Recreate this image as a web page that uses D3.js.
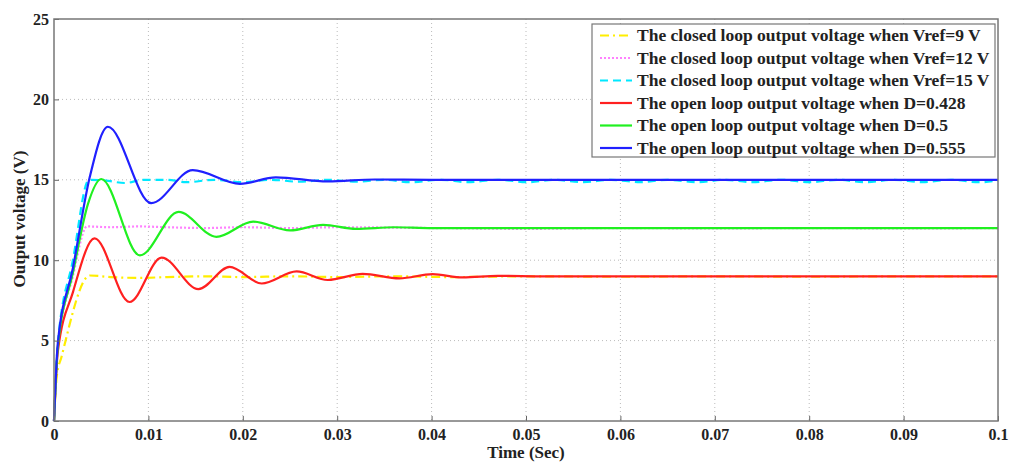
<!DOCTYPE html>
<html>
<head>
<meta charset="utf-8">
<script src="https://cdn.jsdelivr.net/npm/d3@7"></script>
<style>
  body { margin: 0; background: #fff; }
  svg { display: block; font-family: "Liberation Serif", "Times New Roman", serif; font-weight: bold; }
</style>
</head>
<body>
<svg id="chart" width="1014" height="463"></svg>
<script>
// values: [time (s), voltage (V)]
var vref9 = [[0,0],[0.0003,2.8],[0.0008,4.0],[0.0038,9.05],[0.006,8.95],[0.009,8.9],[0.012,8.95],
  [0.016,9.0],[0.02,8.95],[0.025,9.0],[0.03,8.95],[0.036,9.0],[0.042,8.95],[0.05,9.0],[0.06,8.97],
  [0.07,9.0],[0.08,8.97],[0.09,9.0],[0.1,9.0]];
var vref12 = [[0,0],[0.0004,4.5],[0.002,9.0],[0.0035,12.1],[0.006,12.05],[0.009,12.1],[0.012,12.05],
  [0.016,12.0],[0.02,12.05],[0.025,12.0],[0.03,12.05],[0.04,12.0],[0.05,11.95],[0.06,12.0],
  [0.07,11.97],[0.08,12.0],[0.09,11.97],[0.1,12.0]];
var vref15 = [[0,0],[0.0004,4.8],[0.002,10],[0.0037,15.0],[0.0055,14.95],[0.0075,14.8],[0.0095,15.0],
  [0.012,15.0],[0.014,14.85],[0.017,15.0],[0.02,14.85],[0.023,15.0],[0.026,14.88],[0.029,15.0],
  [0.032,14.88],[0.035,15.0],[0.0377,14.85],[0.041,15.0],[0.0438,14.85],[0.047,15.0],[0.0502,14.85],
  [0.053,15.0],[0.0561,14.85],[0.059,15.0],[0.0621,14.85],[0.065,15.0],[0.0682,14.85],[0.071,15.0],
  [0.074,14.85],[0.077,15.0],[0.080,14.85],[0.083,15.0],[0.086,14.85],[0.089,15.0],[0.092,14.85],
  [0.095,15.0],[0.098,14.85],[0.1,14.95]];
var dOpen428 = [[0,0],[0.0004,4.3],[0.002,8.0],[0.0043,11.36],[0.008,7.4],[0.0114,10.16],[0.0153,8.2],
  [0.0186,9.58],[0.022,8.55],[0.0257,9.3],[0.029,8.77],[0.0327,9.15],[0.0366,8.87],[0.0401,9.13],
  [0.0433,8.93],[0.047,9.03],[0.052,9.0],[0.1,9.0]];
var dOpen500 = [[0,0],[0.0004,4.6],[0.002,9.2],[0.0036,13.5],[0.0050,15.05],[0.0091,10.3],[0.0132,13.0],
  [0.0172,11.45],[0.0211,12.4],[0.025,11.85],[0.0285,12.2],[0.032,11.95],[0.036,12.05],[0.04,12.0],[0.1,12.0]];
var dOpen555 = [[0,0],[0.0004,4.8],[0.002,9.5],[0.0038,15.2],[0.0057,18.3],[0.0103,13.55],[0.0147,15.6],
  [0.0197,14.75],[0.0235,15.15],[0.029,14.9],[0.034,15.02],[0.04,15.0],[0.1,15.0]];

var seriesNames = [
  "The closed loop output voltage when Vref=9 V",
  "The closed loop output voltage when Vref=12 V",
  "The closed loop output voltage when Vref=15 V",
  "The open loop output voltage when D=0.428",
  "The open loop output voltage when D=0.5",
  "The open loop output voltage when D=0.555"
];
var seriesData = [vref9, vref12, vref15, dOpen428, dOpen500, dOpen555];
var seriesColors = ["#ffee00", "#ff80ff", "#00e8ff", "#ff2020", "#20f020", "#2020ff"];
var seriesDash = ["9,4,2,4", "2,2", "8,5", null, null, null];

var xTicks = [0, 0.01, 0.02, 0.03, 0.04, 0.05, 0.06, 0.07, 0.08, 0.09, 0.1];
var yTicks = [0, 5, 10, 15, 20, 25];

var svg = d3.select("#chart");
var plotL = 54, plotR = 998, plotT = 19, plotB = 421;

var x = d3.scaleLinear().domain([0, 0.1]).range([plotL, plotR]);
var y = d3.scaleLinear().domain([0, 25]).range([plotB, plotT]);

// grid
var grid = svg.append("g");
grid.selectAll(".gx").data(xTicks.slice(1, -1)).enter().append("line")
  .attr("x1", d => x(d)).attr("x2", d => x(d)).attr("y1", plotT).attr("y2", plotB)
  .attr("stroke", "#bbb").attr("stroke-dasharray", "1,3");
grid.selectAll(".gy").data(yTicks.slice(1, -1)).enter().append("line")
  .attr("x1", plotL).attr("x2", plotR).attr("y1", d => y(d)).attr("y2", d => y(d))
  .attr("stroke", "#bbb").attr("stroke-dasharray", "1,3");

// lines
var line = d3.line().x(d => x(d[0])).y(d => y(d[1])).curve(d3.curveMonotoneX);
seriesData.forEach(function (s, i) {
  svg.append("path").datum(s)
    .attr("d", line)
    .attr("fill", "none")
    .attr("stroke", seriesColors[i])
    .attr("stroke-width", 2.2)
    .attr("stroke-dasharray", seriesDash[i]);
});

// axes
var xAxis = d3.axisBottom(x).tickValues(xTicks).tickFormat(d => String(d))
  .tickSizeInner(-5).tickSizeOuter(0).tickPadding(8);
var yAxis = d3.axisLeft(y).tickValues(yTicks).tickSizeInner(-5).tickSizeOuter(0).tickPadding(5);
var gx = svg.append("g").attr("transform", "translate(0," + plotB + ")").call(xAxis);
var gy = svg.append("g").attr("transform", "translate(" + plotL + ",0)").call(yAxis);
[gx, gy].forEach(function (g) {
  g.select(".domain").remove();
  g.selectAll("line").attr("stroke", "#666");
  g.selectAll("text").attr("font-family", "Liberation Serif").attr("font-weight", "bold")
    .attr("font-size", 16).attr("fill", "#222");
});
// frame
svg.append("rect").attr("x", plotL).attr("y", plotT).attr("width", plotR - plotL).attr("height", plotB - plotT)
  .attr("fill", "none").attr("stroke", "#777").attr("stroke-width", 1.5);

// axis titles
svg.append("text").attr("x", 526).attr("y", 458).attr("text-anchor", "middle")
  .attr("font-size", 17).attr("fill", "#222").text("Time (Sec)");
svg.append("text").attr("transform", "translate(25,219) rotate(-90)").attr("text-anchor", "middle")
  .attr("font-size", 17).attr("fill", "#222").text("Output voltage (V)");

// legend
var lg = svg.append("g");
lg.append("rect").attr("x", 592).attr("y", 24).attr("width", 403).attr("height", 133)
  .attr("fill", "#fff").attr("stroke", "#777").attr("stroke-width", 1.2);
seriesNames.forEach(function (name, i) {
  var ly = 35.5 + i * 22.5;
  lg.append("line").attr("x1", 600).attr("x2", 632).attr("y1", ly).attr("y2", ly)
    .attr("stroke", seriesColors[i]).attr("stroke-width", 2.2).attr("stroke-dasharray", seriesDash[i]);
  lg.append("text").attr("x", 637).attr("y", ly + 5.5).attr("font-size", 17.5).attr("fill", "#222").text(name);
});
</script>
</body>
</html>
